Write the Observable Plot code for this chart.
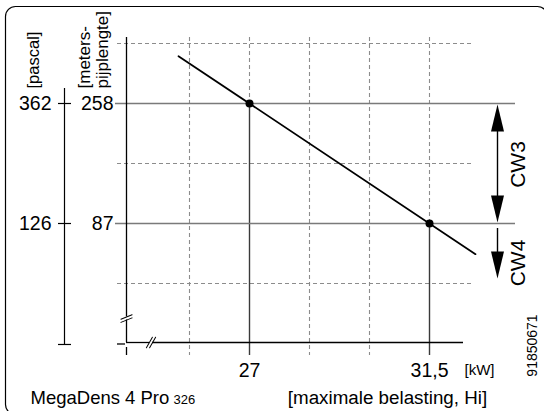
<!DOCTYPE html>
<html><head><meta charset="utf-8">
<script src="https://cdn.jsdelivr.net/npm/d3@7"></script>
<script src="https://cdn.jsdelivr.net/npm/@observablehq/plot@0.6"></script>
<style>body{margin:0;background:#fff;overflow:hidden}#chart{width:544px;height:411px}</style>
</head><body><div id="chart"></div>
<script>
// ---- data (kW vs. meters pipe length) ----
const kwTicks = [27, 31.5];
const kwTickLabels = ["27", "31,5"];
const meterTicks = [258, 87];
const meterTickLabels = ["258", "87"];
const pascalTickLabels = ["362", "126"];
const gridKw = [25.5, 27, 28.5, 30, 31.5];
const gridMetersDashed = [343.5, 172.5, 1.5];
const lineKw = [25.225, 32.65];
const lineMeters = [325.4, 43.3];
const pointKw = [27, 31.5];
const pointMeters = [258, 87];
const cwLabels = ["CW3", "CW4"];
const cwLabelMeters = [171.1, 30.7];

// ---- layout constants in data units ----
const xDomain = [23.925, 32.35];
const yDomain = [-82.575, 352.05];
const gridTop = 352.05, gridBottom = -101.1;
const axisKw = 23.925, axisMeters = -82.575;
const pascalKw = 22.375;
const arrowKw = 33.2;

const font = "'Liberation Sans', Arial, Helvetica, sans-serif";
const dashed = {stroke: "#8c8c8c", strokeWidth: 1.1, strokeDasharray: "4,3"};
const lineShape = {draw(ctx, l) { ctx.moveTo(0, 0); ctx.lineTo(0, -l); }};
const headShape = {draw(ctx, l, r) { ctx.moveTo(-r, 0); ctx.lineTo(0, -l); ctx.lineTo(r, 0); ctx.closePath(); }};

const gridRows = gridKw.map(k => {
  const i = pointKw.indexOf(k);
  return {k, bottom: i >= 0 ? pointMeters[i] : gridBottom};
});
const solidRows = pointKw.map((k, i) => ({k, m: pointMeters[i]}));
const lineRows = lineKw.map((k, i) => ({k, m: lineMeters[i]}));

const chart = Plot.plot({
  width: 544, height: 411,
  marginLeft: 126, marginRight: 81, marginTop: 37, marginBottom: 69,
  x: {domain: xDomain},
  y: {domain: yDomain},
  style: {fontFamily: font, fontSize: "16px", color: "black", background: "white"},
  marks: [
    Plot.frame({rx: 10, insetLeft: -121, insetTop: -31, insetRight: -84, insetBottom: -72, stroke: "black", strokeWidth: 1.2}),
    // dashed grid
    Plot.ruleY(gridMetersDashed, {x1: 23.7, x2: 32.6, ...dashed}),
    Plot.ruleX(gridRows, {x: "k", y1: gridTop, y2: "bottom", ...dashed}),
    // solid guide lines
    Plot.ruleX(solidRows, {x: "k", y1: "m", y2: gridBottom, stroke: "#3a3a3a", strokeWidth: 1.4}),
    Plot.ruleY(meterTicks, {x1: 23.65, x2: 33.65, stroke: "#7a7a7a", strokeWidth: 1.7}),
    // main axes (with break)
    Plot.ruleX([{a: gridTop, b: -46.2}, {a: -50.5, b: axisMeters}], {x: axisKw, y1: "a", y2: "b", stroke: "black", strokeWidth: 1.3}),
    Plot.ruleY([{a: axisKw, b: 24.5}, {a: 24.575, b: xDomain[1]}], {y: axisMeters, x1: "a", x2: "b", stroke: "black", strokeWidth: 1.3}),
    Plot.ruleY([-84.7], {x1: 23.7, x2: 23.9, stroke: "black", strokeWidth: 1.3}),
    Plot.ruleX([axisKw], {y1: -89.7, y2: -101.1, stroke: "black", strokeWidth: 1.3}),
    // break marks
    Plot.vector([0], {x: axisKw, y: -48.4, length: 12, rotate: 68, anchor: "middle", shape: lineShape, dy: -1.6, stroke: "black", strokeWidth: 1}),
    Plot.vector([0], {x: axisKw, y: -48.4, length: 12, rotate: 68, anchor: "middle", shape: lineShape, dy: 1.6, stroke: "black", strokeWidth: 1}),
    Plot.vector([0], {x: 24.5375, y: axisMeters, length: 12, rotate: 30, anchor: "middle", shape: lineShape, dx: -1.6, stroke: "black", strokeWidth: 1}),
    Plot.vector([0], {x: 24.5375, y: axisMeters, length: 12, rotate: 30, anchor: "middle", shape: lineShape, dx: 1.6, stroke: "black", strokeWidth: 1}),
    // pascal axis
    Plot.ruleX([pascalKw], {y1: 279.4, y2: -85.4, stroke: "black", strokeWidth: 1.2}),
    Plot.ruleY([...meterTicks, -85.4], {x1: 22.225, x2: 22.55, stroke: "black", strokeWidth: 1.2}),
    Plot.text(pascalTickLabels, {x: pascalKw, y: (d, i) => meterTicks[i], text: d => d, dx: -13, textAnchor: "end", fontSize: 19.5}),
    // data line + points
    Plot.line(lineRows, {x: "k", y: "m", stroke: "black", strokeWidth: 1.8}),
    Plot.dot(solidRows, {x: "k", y: "m", r: 4, fill: "black", stroke: "none"}),
    // CW arrows
    Plot.ruleX([arrowKw], {y1: 240, y2: 100, stroke: "black", strokeWidth: 1.4}),
    Plot.ruleX([arrowKw], {y1: 79.9, y2: 20, stroke: "black", strokeWidth: 1.4}),
    Plot.vector([{m: 256.6, r: 0}, {m: 88.4, r: 180}, {m: 8.6, r: 180}], {x: arrowKw, y: "m", rotate: "r", length: 27, r: 6.5, anchor: "end", shape: headShape, fill: "black", stroke: "none"}),
    Plot.text(cwLabels, {x: 33.725, y: cwLabelMeters, text: d => d, rotate: -90, fontSize: 21}),
    // axis titles
    Plot.text(["[pascal]"], {x: 21.6125, y: 279.4, text: d => d, rotate: -90, textAnchor: "start", fontSize: 16.5}),
    Plot.text(["[meters-"], {x: 22.875, y: 279.4, text: d => d, rotate: -90, textAnchor: "start", fontSize: 17}),
    Plot.text(["pijplengte]"], {x: 23.33, y: 279.4, text: d => d, rotate: -90, textAnchor: "start", fontSize: 17}),
    Plot.text(["[kW]"], {x: 32.75, y: -122.5, text: d => d, fontSize: 15}),
    Plot.text(["91850671"], {x: 34.075, y: -86.85, text: d => d, rotate: -90, fontSize: 14}),
    Plot.text(["MegaDens 4 Pro"], {x: 21.525, y: -170.9, text: d => d, textAnchor: "start", lineAnchor: "bottom", fontSize: 18.5}),
    Plot.text(["326"], {x: 25.1, y: -170.9, text: d => d, textAnchor: "start", lineAnchor: "bottom", fontSize: 13}),
    Plot.text(["[maximale belasting, Hi]"], {x: 30.45, y: -170.9, text: d => d, textAnchor: "middle", lineAnchor: "bottom", fontSize: 18.8}),
    // axes tick labels
    Plot.axisY(meterTicks, {anchor: "left", tickSize: 0, tickPadding: 13, tickFormat: d => meterTickLabels[meterTicks.indexOf(d)], fontSize: 19.5, label: null}),
    Plot.axisX(kwTicks, {anchor: "bottom", tickSize: 0, tickPadding: 21, tickFormat: d => kwTickLabels[kwTicks.indexOf(d)], fontSize: 19.5, label: null})
  ]
});
document.getElementById("chart").appendChild(chart);
</script>
</body></html>
